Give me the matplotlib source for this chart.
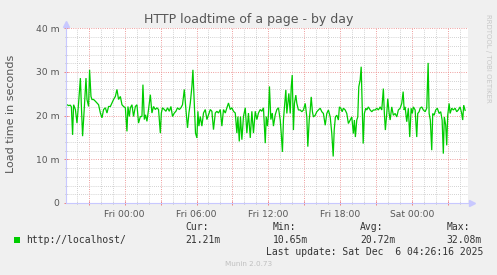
import matplotlib
matplotlib.use("Agg")
import matplotlib.pyplot as plt
from matplotlib.ticker import MultipleLocator, FixedLocator, FuncFormatter
from matplotlib.patches import Rectangle

# ---- data (minutes relative to Fri 00:00, load time in milliseconds) ----
minutes = [
    -288, -280, -271, -266, -260, -255, -246, -238, -230, -221, -216, -210, -201, -193, -188,
    -180, -175, -168, -163, -155, -146, -138, -130, -121, -113, -105, -96, -88, -80, -71,
    -63, -55, -46, -38, -30, -21, -13, -5, 4, 12, 17, 24, 29, 37, 45,
    54, 62, 70, 79, 87, 92, 99, 105, 112, 120, 129, 137, 145, 154, 162,
    170, 179, 184, 190, 199, 207, 215, 224, 232, 240, 249, 257, 265, 274, 282,
    290, 299, 307, 315, 322, 329, 337, 342, 349, 355, 362, 367, 372, 379, 387,
    395, 404, 412, 420, 429, 437, 445, 454, 462, 470, 479, 487, 495, 504, 512,
    520, 529, 537, 545, 554, 562, 567, 574, 580, 587, 595, 604, 612, 620, 629,
    637, 645, 654, 662, 670, 679, 687, 695, 704, 709, 715, 720, 725, 732, 739,
    745, 754, 762, 770, 779, 784, 790, 795, 800, 807, 812, 817, 822, 829, 834,
    839, 845, 850, 857, 862, 870, 879, 887, 895, 904, 912, 917, 924, 929, 934,
    940, 945, 954, 962, 970, 979, 987, 995, 1004, 1012, 1020, 1029, 1037, 1044, 1049,
    1055, 1062, 1070, 1075, 1082, 1089, 1095, 1104, 1112, 1120, 1129, 1137, 1145, 1150, 1155,
    1162, 1167, 1172, 1179, 1184, 1189, 1194, 1200, 1207, 1212, 1220, 1229, 1237, 1245, 1254,
    1262, 1270, 1279, 1287, 1295, 1300, 1305, 1312, 1317, 1324, 1329, 1337, 1345, 1354, 1362,
    1370, 1379, 1387, 1394, 1399, 1404, 1412, 1420, 1427, 1434, 1440, 1445, 1454, 1462, 1467,
    1474, 1479, 1487, 1495, 1504, 1512, 1519, 1524, 1530, 1537, 1542, 1549, 1557, 1565, 1574,
    1582, 1589, 1595, 1600, 1607, 1612, 1617, 1624, 1629, 1637, 1645, 1654, 1662, 1670, 1679,
    1687, 1692, 1697, 1704,
]
load_ms = [
    22.5, 22.3, 22.4, 22.0, 15.6, 22.5, 21.4, 18.3, 22.9, 28.6, 22.1, 15.3, 22.1, 28.6, 23.7,
    22.1, 30.5, 24.4, 23.7, 23.7, 23.3, 22.9, 22.5, 20.6, 19.5, 21.4, 21.8, 20.6, 22.1, 22.1,
    22.9, 23.7, 24.4, 26.0, 23.7, 24.4, 22.5, 22.1, 21.8, 16.4, 22.1, 19.8, 21.8, 22.5, 19.8,
    22.1, 22.5, 18.3, 19.8, 19.8, 27.1, 19.1, 20.2, 18.7, 21.4, 24.8, 20.6, 22.1, 21.4, 21.8,
    21.4, 16.0, 20.6, 21.8, 21.4, 21.0, 21.8, 21.0, 22.1, 19.8, 20.6, 21.0, 21.8, 21.4, 21.8,
    22.5, 26.0, 21.4, 17.2, 20.6, 22.9, 26.7, 30.5, 22.9, 16.0, 14.9, 21.0, 17.6, 19.8, 17.6,
    20.6, 21.4, 19.1, 20.2, 21.4, 21.0, 16.8, 20.6, 21.0, 20.6, 21.4, 17.6, 21.4, 20.6, 21.8,
    22.9, 21.4, 21.8, 21.0, 20.6, 16.0, 19.8, 14.1, 19.8, 14.5, 19.8, 21.8, 16.0, 20.6, 14.9,
    21.0, 16.0, 21.0, 19.1, 20.6, 21.4, 21.0, 21.8, 13.7, 19.8, 17.6, 20.2, 26.7, 19.1, 20.6,
    17.6, 20.2, 21.4, 21.8, 19.0, 15.9, 11.7, 19.0, 22.0, 25.9, 20.5, 22.8, 25.1, 20.5, 26.6,
    29.3, 16.7, 22.8, 24.7, 22.8, 21.3, 21.3, 20.9, 21.3, 22.8, 19.7, 12.9, 19.0, 21.3, 24.3,
    20.9, 19.7, 20.1, 20.9, 21.3, 21.7, 20.9, 20.5, 17.8, 20.5, 21.3, 19.7, 15.9, 10.65, 16.7,
    19.7, 20.1, 19.0, 22.0, 21.7, 20.9, 21.7, 21.3, 20.5, 18.2, 19.0, 19.7, 15.9, 19.0, 15.1,
    19.0, 19.7, 26.6, 28.2, 31.2, 22.0, 13.6, 20.5, 21.7, 21.3, 22.0, 21.3, 20.9, 21.3, 21.3,
    21.7, 21.3, 22.0, 21.3, 26.2, 20.5, 16.7, 20.5, 23.9, 20.5, 19.0, 22.0, 20.1, 20.5, 19.7,
    21.3, 21.7, 22.8, 25.5, 21.3, 22.0, 18.6, 21.7, 15.1, 21.7, 20.5, 22.0, 21.3, 15.1, 20.5,
    20.9, 21.7, 22.0, 21.3, 20.9, 21.7, 32.08, 20.5, 19.0, 12.1, 20.5, 20.1, 21.3, 21.7, 20.5,
    20.9, 19.0, 11.3, 19.7, 17.8, 13.2, 20.1, 22.8, 20.5, 21.7, 21.3, 21.7, 20.9, 21.3, 22.0,
    20.5, 19.0, 22.4, 21.21,
]
xtick_minutes = [0, 360, 720, 1080, 1440]
xtick_labels = ["Fri 00:00", "Fri 06:00", "Fri 12:00", "Fri 18:00", "Sat 00:00"]
ytick_values = [0, 10, 20, 30, 40]
ytick_labels = ["0", "10 m", "20 m", "30 m", "40 m"]
series_label = "http://localhost/"
stat_names = ["Cur:", "Min:", "Avg:", "Max:"]
stat_values = ["21.21m", "10.65m", "20.72m", "32.08m"]
title = "HTTP loadtime of a page - by day"
ylabel = "Load time in seconds"
last_update = "Last update: Sat Dec  6 04:26:16 2025"

W, H = 497, 275
BG = "#f0f0f0"
GREEN = "#00cc00"
TXT = "#555555"
AXC = "#c8c8ff"


def fx(px):
    return px / W


def fy(py):
    return 1 - py / H


fig = plt.figure(figsize=(W / 100, H / 100), dpi=100, facecolor=BG)
ax = fig.add_axes([fx(66), fy(203), (467.5 - 66) / W, (203 - 28.3) / H])
ax.set_facecolor("white")
ax.set_xlim(-293, 1716)
ax.set_ylim(0, 40)

# grid
ax.xaxis.set_major_locator(MultipleLocator(180))
ax.xaxis.set_minor_locator(MultipleLocator(60))
lab = dict(zip(xtick_minutes, xtick_labels))
ax.xaxis.set_major_formatter(FuncFormatter(lambda v, p: lab.get(int(round(v)), "")))
ax.yaxis.set_major_locator(FixedLocator(ytick_values))
ax.set_yticklabels(ytick_labels)
ax.yaxis.set_minor_locator(MultipleLocator(2))

ax.grid(True, which="minor", color="#c4c4c4", linestyle=(0, (1, 1.5)), linewidth=0.6)
ax.grid(True, which="major", color="#ec9090", linestyle=(0, (1, 1.5)), linewidth=0.65)
ax.set_axisbelow(True)

ax.tick_params(axis="both", which="major", labelsize=6.6, labelcolor=TXT,
               color="#f08080", length=2.5, width=0.7, direction="inout")
ax.tick_params(axis="both", which="minor", color="#b0b0b0", length=2,
               width=0.6, direction="inout")
ax.tick_params(axis="x", which="major", pad=3.5)
ax.tick_params(axis="y", which="major", pad=3.5)

for s in ["top", "right"]:
    ax.spines[s].set_visible(False)
for s in ["left", "bottom"]:
    ax.spines[s].set_color(AXC)
    ax.spines[s].set_linewidth(0.8)

# arrows
ax.plot([1.0 + 4 / 401.5], [0], marker=">", markersize=4, color=AXC,
        transform=ax.transAxes, clip_on=False)
ax.plot([0], [1.0 + 4 / 175], marker="^", markersize=4, color=AXC,
        transform=ax.transAxes, clip_on=False)

ax.plot(minutes, load_ms, color=GREEN, linewidth=0.9, solid_joinstyle="miter")

# texts
fig.text(0.5, fy(19.5), title, ha="center", va="center", fontsize=9, color=TXT)
fig.text(fx(11.5), fy(114), ylabel, ha="center", va="center", rotation=90,
         fontsize=8, color=TXT)
fig.text(fx(488), fy(58), "RRDTOOL / TOBI OETIKER", ha="center", va="center",
         rotation=270, fontsize=5, color="#c8c8c8")

mono = "DejaVu Sans Mono"
fig.patches.append(Rectangle((fx(14), fy(243)), 6 / W, 6 / H, transform=fig.transFigure,
                             facecolor=GREEN, edgecolor="none"))
fig.text(fx(26.5), fy(240), series_label, ha="left", va="center", fontsize=7,
         family=mono, color="#333333")
stat_x = [185, 272.7, 360, 446.7]
for x, n, v in zip(stat_x, stat_names, stat_values):
    fig.text(fx(x), fy(227.5), n, ha="left", va="center", fontsize=7, family=mono, color="#333333")
    fig.text(fx(x), fy(240), v, ha="left", va="center", fontsize=7, family=mono, color="#333333")
fig.text(fx(483), fy(252), last_update, ha="right", va="center", fontsize=7,
         family=mono, color="#333333")
fig.text(0.5, fy(264), "Munin 2.0.73", ha="center", va="center", fontsize=5.2,
         color="#c0c0c0")

fig.savefig("out.png", dpi=100, facecolor=BG)
